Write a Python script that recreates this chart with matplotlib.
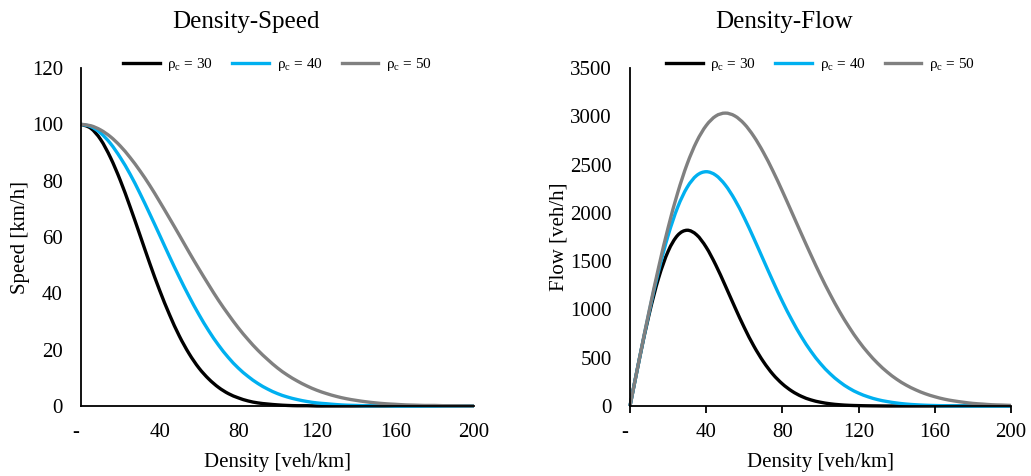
import matplotlib
matplotlib.use('Agg')
import matplotlib.pyplot as plt
import matplotlib.path as mpath
import matplotlib.patches as mpatches
import matplotlib.transforms as mtransforms
import numpy as np

plt.rcParams['font.family'] = ['Liberation Serif', 'DejaVu Serif']

# Density samples [veh/km]
density = list(range(0, 205, 5))

# Speed [km/h]
speed_30 = [100, 98.6, 94.6, 88.2, 80.1, 70.7, 60.7, 50.6, 41.1, 32.5, 24.9,
            18.6, 13.5, 9.6, 6.6, 4.4, 2.9, 1.8, 1.1, 0.7, 0.4, 0.2, 0.1, 0.1,
            0, 0, 0, 0, 0, 0, 0, 0, 0, 0, 0, 0, 0, 0, 0, 0, 0]
speed_40 = [100, 99.2, 96.9, 93.2, 88.2, 82.3, 75.5, 68.2, 60.7, 53.1, 45.8,
            38.9, 32.5, 26.7, 21.6, 17.2, 13.5, 10.5, 8.0, 6.0, 4.4, 3.2, 2.3,
            1.6, 1.1, 0.8, 0.5, 0.3, 0.2, 0.1, 0.1, 0.1, 0, 0, 0, 0, 0, 0, 0, 0, 0]
speed_50 = [100, 99.5, 98.0, 95.6, 92.3, 88.2, 83.5, 78.3, 72.6, 66.7, 60.7,
            54.6, 48.7, 43.0, 37.5, 32.5, 27.8, 23.6, 19.8, 16.5, 13.5, 11.0,
            8.9, 7.1, 5.6, 4.4, 3.4, 2.6, 2.0, 1.5, 1.1, 0.8, 0.6, 0.4, 0.3,
            0.2, 0.2, 0.1, 0.1, 0.05, 0.03]

# Flow [veh/h]
flow_30 = [0, 493, 946, 1324, 1601, 1767, 1820, 1772, 1644, 1461, 1247, 1025,
           812, 621, 460, 329, 229, 154, 100, 63, 39, 23, 13, 7, 4, 2, 1, 0,
           0, 0, 0, 0, 0, 0, 0, 0, 0, 0, 0, 0, 0]
flow_40 = [0, 496, 969, 1398, 1765, 2057, 2264, 2387, 2426, 2390, 2289, 2137,
           1948, 1736, 1514, 1293, 1082, 889, 716, 566, 439, 335, 251, 184,
           133, 95, 66, 46, 31, 20, 13, 8, 5, 3, 2, 1, 0, 0, 0, 0, 0]
flow_50 = [0, 498, 980, 1434, 1846, 2206, 2506, 2739, 2904, 3002, 3033, 3004,
           2921, 2792, 2627, 2435, 2224, 2003, 1781, 1563, 1353, 1158, 978,
           817, 673, 549, 442, 352, 277, 216, 167, 127, 96, 71, 53, 39, 27,
           20, 13, 10, 6]

labels = ['ρ$_\\mathregular{c}$ = 30', 'ρ$_\\mathregular{c}$ = 40', 'ρ$_\\mathregular{c}$ = 50']
colors = ['#000000', '#00B0F0', '#808080']
x_ticks = [0, 40, 80, 120, 160, 200]
x_ticklabels = ['-', '40', '80', '120', '160', '200']

LW = 2.4

fig = plt.figure(figsize=(10.31, 4.76), dpi=100)
ax1 = fig.add_axes([81 / 1031, 70 / 476, 393 / 1031, 338 / 476])
ax2 = fig.add_axes([630 / 1031, 70 / 476, 381 / 1031, 338 / 476])


def smooth_line(ax, xs, ys, color, label):
    # smoothed line like Excel: cubic Bezier segments through every data point
    p = np.column_stack([xs, ys]).astype(float)
    verts = [p[0]]
    codes = [mpath.Path.MOVETO]
    n = len(p)
    for i in range(n - 1):
        p0 = p[i - 1] if i > 0 else p[i]
        p3 = p[i + 2] if i + 2 < n else p[i + 1]
        c1 = p[i] + (p[i + 1] - p0) / 6
        c2 = p[i + 1] - (p3 - p[i]) / 6
        verts += [c1, c2, p[i + 1]]
        codes += [mpath.Path.CURVE4] * 3
    patch = mpatches.PathPatch(mpath.Path(verts, codes), fill=False,
                               edgecolor=color, linewidth=LW, clip_on=False)
    ax.add_patch(patch)
    ax.plot([], [], color=color, linewidth=LW, label=label)


def style(ax, title, title_x, ylabel, ymax, ystep, xticks_out):
    ax.set_xlim(0, 200)
    ax.set_ylim(0, ymax)
    ax.set_yticks(np.arange(0, ymax + 1, ystep))
    ax.set_xticks(x_ticks)
    ax.set_xticklabels(x_ticklabels)
    for s in ['top', 'right']:
        ax.spines[s].set_visible(False)
    for s in ['left', 'bottom']:
        ax.spines[s].set_linewidth(1.3)
    ax.tick_params(axis='y', length=0, labelsize=15, pad=13)
    if xticks_out:
        ax.tick_params(axis='x', length=5, width=1.3, direction='out', labelsize=15, pad=7)
    else:
        ax.tick_params(axis='x', length=0, labelsize=15, pad=12)
    # accounting style "-" sits a little left of zero
    lbl = ax.get_xticklabels()[0]
    lbl.set_transform(lbl.get_transform() + mtransforms.ScaledTranslation(-5 / 100, 0, fig.dpi_scale_trans))
    ax.set_title(title, fontsize=18, pad=29, x=title_x)
    ax.set_xlabel('Density [veh/km]', fontsize=15, labelpad=8)
    ax.set_ylabel(ylabel, fontsize=15, labelpad=1)
    ax.legend(loc='upper center', bbox_to_anchor=(0.5, 1.075), ncol=3, frameon=False,
              fontsize=11, handlelength=2.4, columnspacing=1.25, handletextpad=0.5)


for sp, lab, c in zip([speed_30, speed_40, speed_50], labels, colors):
    smooth_line(ax1, density, sp, c, lab)
for fl, lab, c in zip([flow_30, flow_40, flow_50], labels, colors):
    smooth_line(ax2, density, fl, c, lab)

style(ax1, 'Density-Speed', 0.42, 'Speed [km/h]', 120, 20, False)
style(ax2, 'Density-Flow', 0.405, 'Flow [veh/h]', 3500, 500, True)

fig.savefig('out.png', dpi=100)
